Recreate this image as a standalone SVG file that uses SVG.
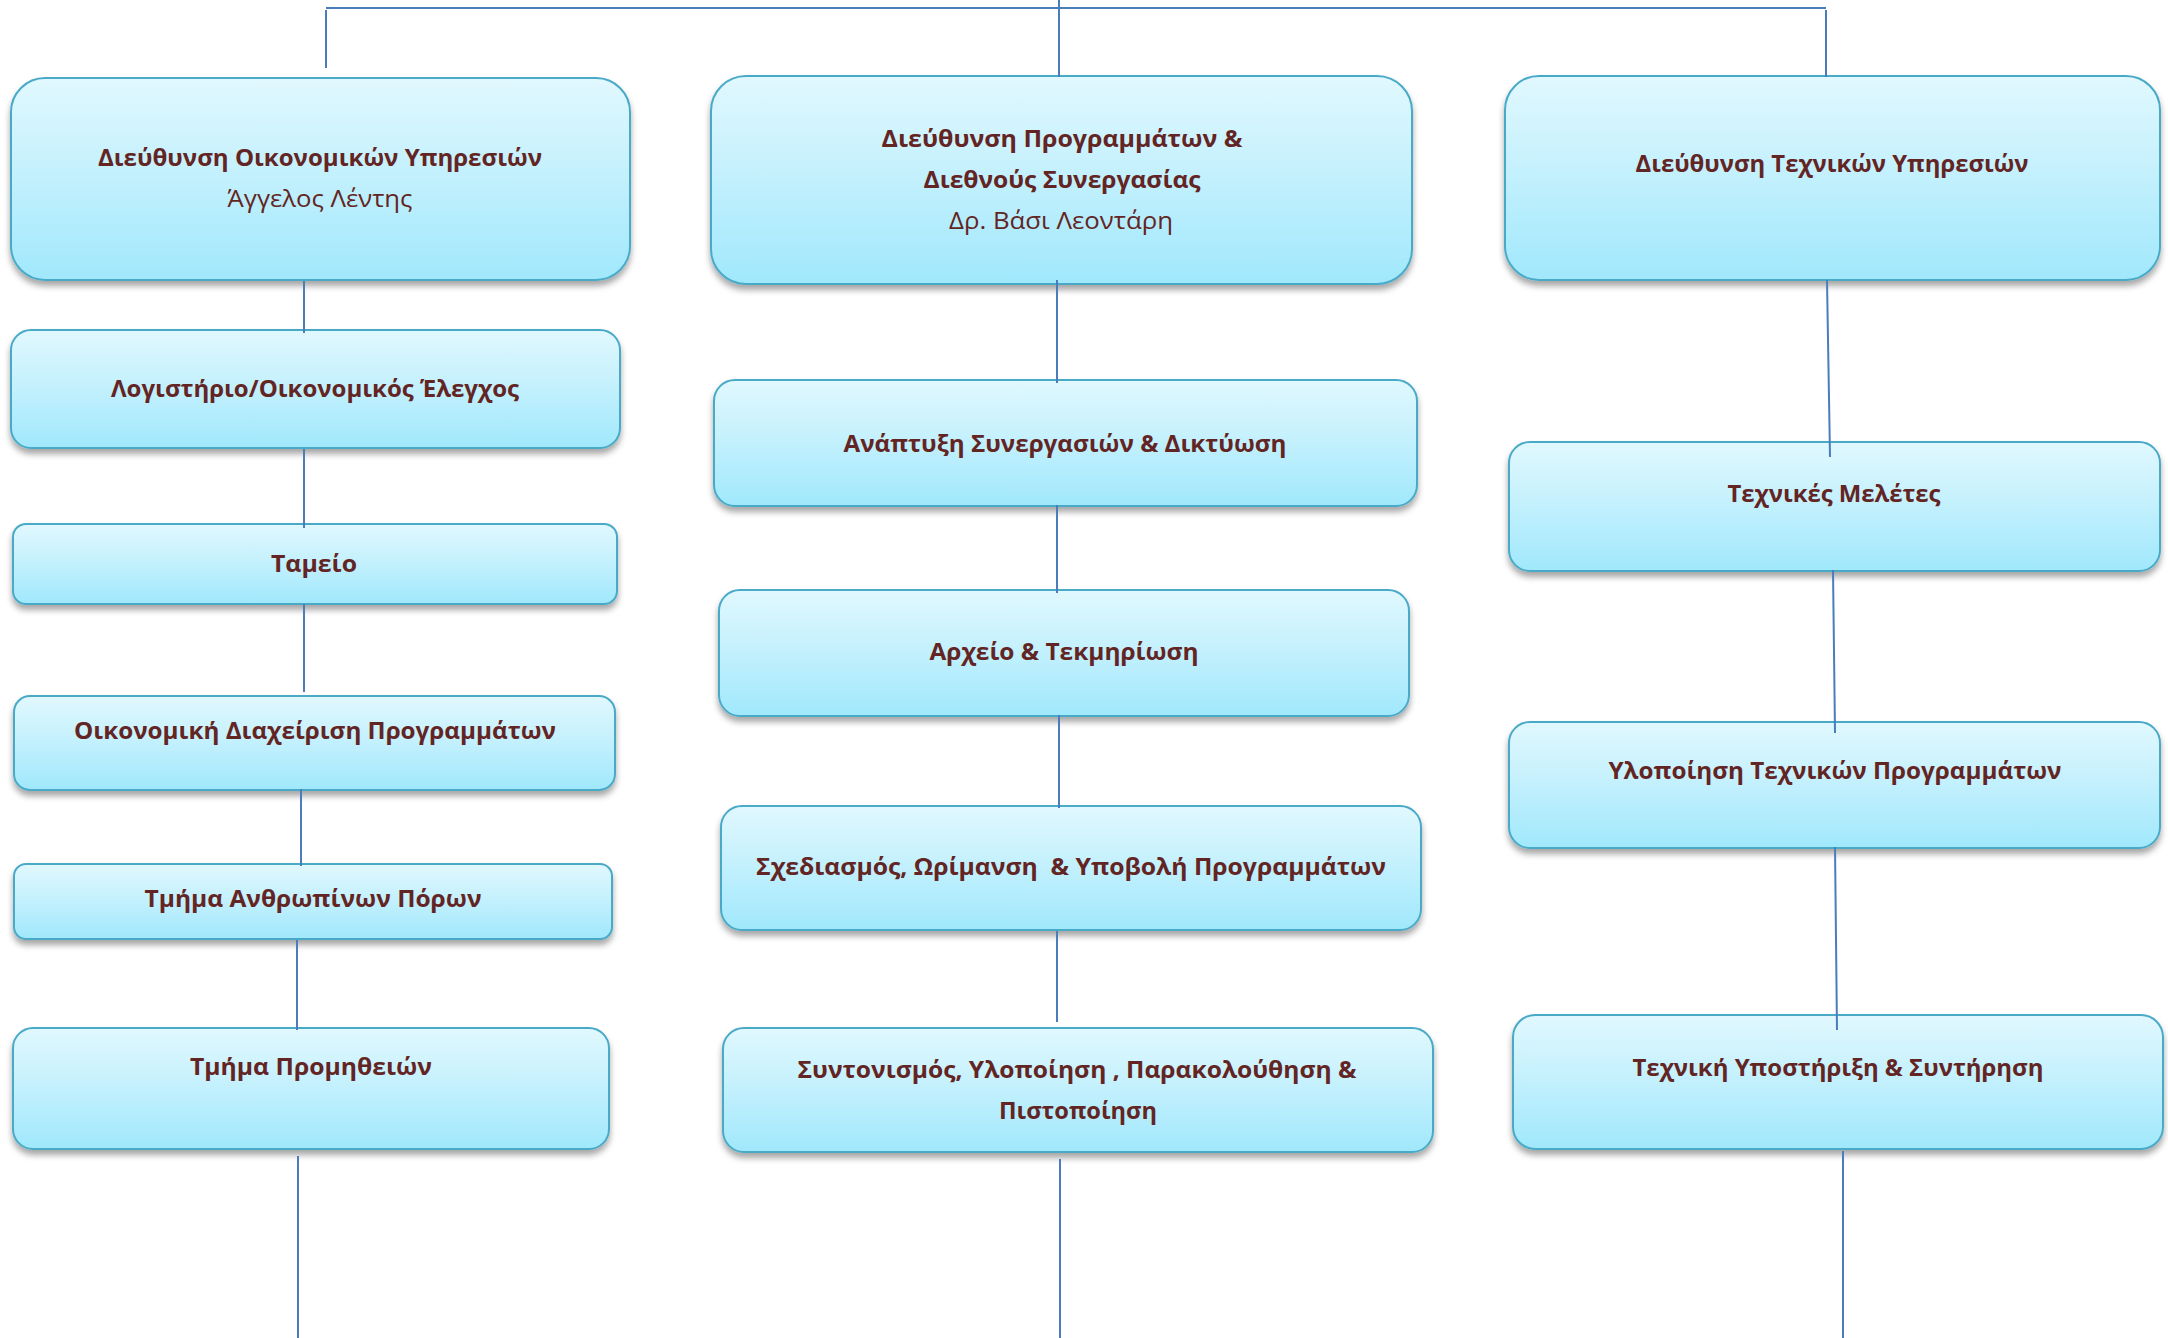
<svg xmlns="http://www.w3.org/2000/svg" width="2168" height="1338" viewBox="0 0 2168 1338">
<defs>
<linearGradient id="g" x1="0" y1="0" x2="0" y2="1">
<stop offset="0" stop-color="#e1f8fe"/>
<stop offset="0.5" stop-color="#c2f0fd"/>
<stop offset="1" stop-color="#a0e8fc"/>
</linearGradient>
<filter id="sh" x="-5%" y="-10%" width="110%" height="130%">
<feDropShadow dx="0" dy="5" stdDeviation="3" flood-color="#000" flood-opacity="0.35"/>
</filter>
</defs>
<style>
.box{fill:url(#g);stroke:#4aaac8;stroke-width:2;filter:url(#sh)}
.t{font-family:"Open Sans","Noto Sans",sans-serif;font-weight:bold;font-size:24px;fill:#632523;text-anchor:middle}
.s{font-family:"Open Sans","Noto Sans",sans-serif;font-weight:normal;font-size:24px;fill:#632523;text-anchor:middle}
.c{stroke:#4a7ebb;stroke-width:2;fill:none}
</style>
<rect width="2168" height="1338" fill="#ffffff"/>

<g id="dir-oik">
<rect class="box" x="11" y="78" width="619" height="202" rx="34"/>
<text class="t" x="320" y="166" textLength="444" lengthAdjust="spacingAndGlyphs">Διεύθυνση Οικονομικών Υπηρεσιών</text>
<text class="s" x="320" y="207" textLength="185" lengthAdjust="spacingAndGlyphs">Άγγελος Λέντης</text>
</g>
<g id="logistirio">
<rect class="box" x="11" y="330" width="609" height="118" rx="20"/>
<text class="t" x="315" y="397" textLength="408" lengthAdjust="spacingAndGlyphs">Λογιστήριο/Οικονομικός Έλεγχος</text>
</g>
<g id="tameio">
<rect class="box" x="13" y="524" width="604" height="80" rx="13"/>
<text class="t" x="314" y="572" textLength="86" lengthAdjust="spacingAndGlyphs">Ταμείο</text>
</g>
<g id="oik-diax">
<rect class="box" x="14" y="696" width="601" height="94" rx="16"/>
<text class="t" x="315" y="739" textLength="482" lengthAdjust="spacingAndGlyphs">Οικονομική Διαχείριση Προγραμμάτων</text>
</g>
<g id="anthropinoi">
<rect class="box" x="14" y="864" width="598" height="75" rx="12"/>
<text class="t" x="313" y="907" textLength="337" lengthAdjust="spacingAndGlyphs">Τμήμα Ανθρωπίνων Πόρων</text>
</g>
<g id="promitheies">
<rect class="box" x="13" y="1028" width="596" height="121" rx="20"/>
<text class="t" x="311" y="1075" textLength="242" lengthAdjust="spacingAndGlyphs">Τμήμα Προμηθειών</text>
</g>

<g id="dir-prog">
<rect class="box" x="711" y="76" width="701" height="208" rx="35"/>
<text class="t" x="1062" y="147" textLength="361" lengthAdjust="spacingAndGlyphs">Διεύθυνση Προγραμμάτων &amp;</text>
<text class="t" x="1062" y="188" textLength="277" lengthAdjust="spacingAndGlyphs">Διεθνούς Συνεργασίας</text>
<text class="s" x="1061" y="229" textLength="224" lengthAdjust="spacingAndGlyphs">Δρ. Βάσι Λεοντάρη</text>
</g>
<g id="anaptyxi">
<rect class="box" x="714" y="380" width="703" height="126" rx="21"/>
<text class="t" x="1065" y="452" textLength="443" lengthAdjust="spacingAndGlyphs">Ανάπτυξη Συνεργασιών &amp; Δικτύωση</text>
</g>
<g id="arxeio">
<rect class="box" x="719" y="590" width="690" height="126" rx="21"/>
<text class="t" x="1064" y="660" textLength="269" lengthAdjust="spacingAndGlyphs">Αρχείο &amp; Τεκμηρίωση</text>
</g>
<g id="sxediasmos">
<rect class="box" x="721" y="806" width="700" height="124" rx="21"/>
<text class="t" x="1071" y="875" textLength="630" lengthAdjust="spacingAndGlyphs" xml:space="preserve">Σχεδιασμός, Ωρίμανση  &amp; Υποβολή Προγραμμάτων</text>
</g>
<g id="syntonismos">
<rect class="box" x="723" y="1028" width="710" height="124" rx="21"/>
<text class="t" x="1077" y="1078" textLength="559" lengthAdjust="spacingAndGlyphs">Συντονισμός, Υλοποίηση , Παρακολούθηση &amp;</text>
<text class="t" x="1078" y="1119" textLength="158" lengthAdjust="spacingAndGlyphs">Πιστοποίηση</text>
</g>

<g id="dir-tech">
<rect class="box" x="1505" y="76" width="655" height="204" rx="34"/>
<text class="t" x="1832" y="172" textLength="393" lengthAdjust="spacingAndGlyphs">Διεύθυνση Τεχνικών Υπηρεσιών</text>
</g>
<g id="meletes">
<rect class="box" x="1509" y="442" width="651" height="129" rx="21"/>
<text class="t" x="1834" y="502" textLength="213" lengthAdjust="spacingAndGlyphs">Τεχνικές Μελέτες</text>
</g>
<g id="ylopoiisi">
<rect class="box" x="1509" y="722" width="651" height="126" rx="21"/>
<text class="t" x="1835" y="779" textLength="453" lengthAdjust="spacingAndGlyphs">Υλοποίηση Τεχνικών Προγραμμάτων</text>
</g>
<g id="ypostirixi">
<rect class="box" x="1513" y="1015" width="650" height="134" rx="22"/>
<text class="t" x="1838" y="1076" textLength="411" lengthAdjust="spacingAndGlyphs">Τεχνική Υποστήριξη &amp; Συντήρηση</text>
</g>

<g id="connectors" class="c">
<line x1="326" y1="8" x2="1826" y2="8"/>
<line x1="326" y1="10" x2="326" y2="68"/>
<line x1="1059" y1="0" x2="1059" y2="77"/>
<line x1="1826" y1="10" x2="1826" y2="77"/>
<line x1="304" y1="281" x2="304" y2="333"/>
<line x1="304" y1="449" x2="304" y2="528"/>
<line x1="304" y1="604" x2="304" y2="692"/>
<line x1="301" y1="789" x2="301" y2="866"/>
<line x1="297" y1="940" x2="297" y2="1030"/>
<line x1="298" y1="1156" x2="298" y2="1338"/>
<line x1="1057" y1="280" x2="1057" y2="383"/>
<line x1="1057" y1="505" x2="1057" y2="593"/>
<line x1="1059" y1="715" x2="1059" y2="808"/>
<line x1="1057" y1="931" x2="1057" y2="1022"/>
<line x1="1060" y1="1159" x2="1060" y2="1338"/>
<line x1="1827" y1="280" x2="1830" y2="457"/>
<line x1="1833" y1="570" x2="1835" y2="733"/>
<line x1="1835" y1="847" x2="1837" y2="1030"/>
<line x1="1843" y1="1151" x2="1843" y2="1338"/>
</g>
</svg>
